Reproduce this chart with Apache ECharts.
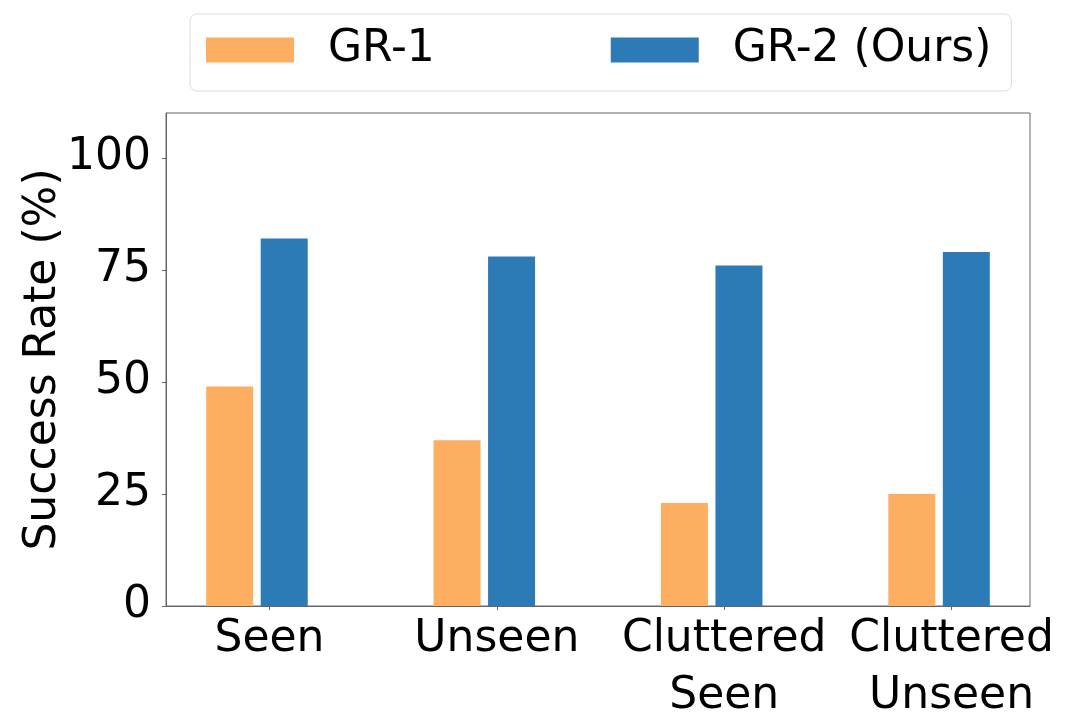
<!DOCTYPE html>
<html>
<head>
<meta charset="utf-8">
<script src="https://cdn.jsdelivr.net/npm/echarts@6/dist/echarts.min.js"></script>
<style>
  html, body { margin: 0; padding: 0; background: #fff; }
  #chart { width: 1078px; height: 726px; }
</style>
</head>
<body>
<div id="chart"></div>
<script>
	// 数据
	var categories = ['Seen', 'Unseen', 'Cluttered\nSeen', 'Cluttered\nUnseen'];
	var gr1 = [49, 37, 23, 25];
	var gr2 = [82, 78, 76, 79];
	var yTicks = [0, 25, 50, 75, 100];
	var seriesNames = ['GR-1', 'GR-2 (Ours)'];
	var colors = ['#fdae61', '#2c7bb6'];

	// tick marks sit a little right of each bar pair
	var tickPos = categories.map(function (c, i) { return i + 0.055; });

	var font = 'DejaVu Sans';
	var axisColor = '#666';

	var vm = echarts.init(document.getElementById('chart'));
	var option = {
		animation: false,
		textStyle: { fontFamily: font },
		legend: {
			left: 190,
			top: 14,
			padding: [14, 20, 19, 16],
			itemWidth: 88,
			itemHeight: 25,
			itemGap: 176,
			icon: 'rect',
			borderColor: '#dcdcdc',
			borderWidth: 1,
			borderRadius: 7,
			textStyle: {
				fontFamily: font,
				fontSize: 44,
				lineHeight: 44,
				color: '#000',
				padding: [0, 0, 0, 29]
			},
			data: seriesNames
		},
		grid: {
			left: 166,
			right: 48,
			top: 113,
			bottom: 120,
			show: true,
			borderColor: axisColor,
			borderWidth: 1,
			containLabel: false
		},
		xAxis: {
			type: 'value',
			min: -0.4,
			max: 3.4,
			splitLine: { show: false },
			axisLine: { show: true, onZero: false, lineStyle: { color: axisColor } },
			axisTick: {
				show: true,
				length: 4,
				customValues: tickPos,
				lineStyle: { color: axisColor }
			},
			axisLabel: {
				customValues: tickPos,
				fontFamily: font,
				fontSize: 44,
				lineHeight: 57,
				color: '#000',
				margin: 5,
				formatter: function (v) {
					return categories[Math.round(v)] || '';
				}
			}
		},
		yAxis: {
			type: 'value',
			min: 0,
			max: 110,
			name: 'Success Rate (%)',
			nameLocation: 'middle',
			nameGap: 100,
			nameMoveOverlap: false,
			nameTextStyle: { fontFamily: font, fontSize: 44, color: '#000' },
			splitLine: { show: false },
			axisLine: { show: true, onZero: false, lineStyle: { color: axisColor } },
			axisTick: {
				show: true,
				length: 4,
				customValues: yTicks,
				lineStyle: { color: axisColor }
			},
			axisLabel: {
				customValues: yTicks,
				fontFamily: font,
				fontSize: 44,
				color: '#000',
				margin: 15
			}
		},
		series: [
			{
				name: seriesNames[0],
				type: 'bar',
				barWidth: 47,
				barGap: '16%',
				itemStyle: { color: colors[0] },
				data: gr1.map(function (v, i) { return [i, v]; })
			},
			{
				name: seriesNames[1],
				type: 'bar',
				barWidth: 47,
				barGap: '16%',
				itemStyle: { color: colors[1] },
				data: gr2.map(function (v, i) { return [i, v]; })
			}
		]
	};
	vm.setOption(option);
</script>
</body>
</html>
